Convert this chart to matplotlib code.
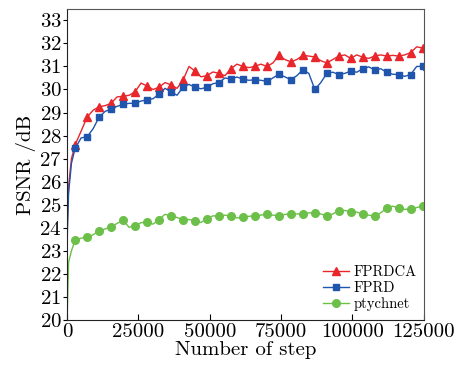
import matplotlib
matplotlib.use("Agg")
import matplotlib.pyplot as plt
import numpy as np

plt.rcParams["font.family"] = ["cmr10", "DejaVu Serif"]
plt.rcParams["mathtext.fontset"] = "cm"
plt.rcParams["axes.formatter.use_mathtext"] = True

steps = np.r_[[0, 500, 1500], np.arange(2800, 124601, 2100), [125000]]

fprdca = [
    24.0, 25.8, 27.0, 27.6, 28.2, 28.8, 29.1, 29.25, 29.3, 29.4,
    29.68, 29.7, 29.75, 29.9, 30.28, 30.15, 30.0, 30.1, 30.3, 30.2,
    30.05, 30.4, 31.0, 30.8, 30.55, 30.6, 30.76, 30.7, 30.6, 30.9,
    31.1, 31.0, 30.95, 31.0, 31.1, 31.0, 31.15, 31.48, 31.3, 31.2,
    31.3, 31.48, 31.45, 31.41, 31.25, 31.15, 31.3, 31.45, 31.5, 31.35,
    31.5, 31.4, 31.35, 31.45, 31.5, 31.45, 31.48, 31.45, 31.5, 31.6,
    31.85, 31.8, 31.6,
]
fprd = [
    23.5, 25.5, 26.8, 27.45, 27.9, 27.95, 28.3, 28.8, 29.05, 29.15,
    29.27, 29.35, 29.4, 29.4, 29.5, 29.55, 29.6, 29.8, 30.05, 29.9,
    29.75, 30.1, 30.22, 30.1, 30.03, 30.1, 30.25, 30.3, 30.5, 30.45,
    30.54, 30.45, 30.4, 30.42, 30.4, 30.35, 30.5, 30.66, 30.55, 30.42,
    30.6, 30.85, 30.7, 30.0, 30.3, 30.7, 30.75, 30.65, 30.7, 30.8,
    30.75, 30.9, 30.98, 30.85, 30.9, 30.75, 30.66, 30.65, 30.57, 30.65,
    31.0, 31.0, 30.83,
]
ptychnet = [
    20.1, 22.5, 23.0, 23.47, 23.55, 23.58, 23.7, 23.87, 23.95, 24.05,
    24.19, 24.33, 24.02, 24.1, 24.22, 24.25, 24.16, 24.35, 24.59, 24.5,
    24.45, 24.35, 24.36, 24.3, 24.23, 24.4, 24.52, 24.5, 24.55, 24.5,
    24.43, 24.45, 24.5, 24.52, 24.55, 24.59, 24.55, 24.52, 24.58, 24.62,
    24.6, 24.62, 24.65, 24.65, 24.6, 24.52, 24.6, 24.75, 24.75, 24.7,
    24.68, 24.6, 24.55, 24.5, 24.65, 24.85, 24.94, 24.85, 24.8, 24.82,
    24.88, 24.94, 24.94,
]

fig = plt.figure(figsize=(4.73, 3.67), dpi=100)
ax = fig.add_axes([0.142, 0.128, 0.754, 0.848])

marks = slice(3, None, 2)
ax.plot(steps, fprdca, color="#e8262b", lw=1.0, marker="^", ms=5.5,
        markevery=marks, label="FPRDCA")
ax.plot(steps, fprd, color="#1f55ad", lw=1.0, marker="s", ms=4.8,
        markevery=marks, label="FPRD")
ax.plot(steps, ptychnet, color="#6cc04a", lw=1.0, marker="o", ms=5.5,
        markevery=marks, label="ptychnet")

ax.set_xlim(0, 125000)
ax.set_ylim(20, 33.5)
ax.set_xticks([0, 25000, 50000, 75000, 100000, 125000])
ax.set_xticklabels(["0", "25000", "50000", "75000", "100000", "125000"])
ax.set_yticks(range(20, 34))
ax.tick_params(axis="x", direction="in", length=4, labelsize=15, pad=2,
               top=False)
ax.tick_params(axis="y", direction="out", length=3, labelsize=15, pad=1,
               right=False)

for side in ["top", "right"]:
    ax.spines[side].set_color("#555555")
for side in ["left", "bottom"]:
    ax.spines[side].set_color("#222222")

ax.set_xlabel("Number of step", fontsize=15, labelpad=0)
ax.set_ylabel("PSNR /dB", fontsize=15, labelpad=2)

ax.legend(loc="lower right", frameon=False, fontsize=10.5,
          handlelength=1.75, handletextpad=0.35, labelspacing=0.15,
          borderaxespad=0.2, bbox_to_anchor=(1.005, 0.0))

fig.savefig("out.png", dpi=100)
